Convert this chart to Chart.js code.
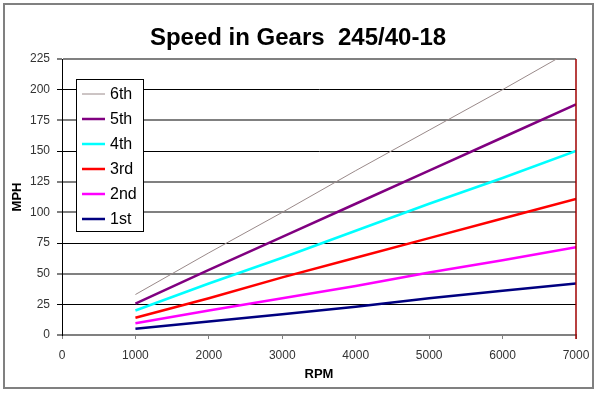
<!DOCTYPE html>
<html>
<head>
<meta charset="utf-8">
<script src="https://cdn.jsdelivr.net/npm/chart.js@4.4.1/dist/chart.umd.min.js"></script>
<style>
  body { margin: 0; background: #fff; }
  canvas { display: block; }
</style>
</head>
<body>
<canvas id="graficaMarchas" width="600" height="394"></canvas>
<script>
// Datos (MPH por marcha)
const rpm = [1000, 2000, 3000, 4000, 5000, 6000, 7000];
const marcha1 = [5, 11, 17, 23, 30, 36, 42];
const marcha2 = [9.5, 20, 30, 40, 51, 61, 71.5];
const marcha3 = [14, 30, 47, 63, 79, 95, 111];
const marcha4 = [20, 42, 63, 85, 107, 128, 150];
const marcha5 = [25.5, 53, 80, 107, 134, 161, 188];
const marcha6 = [33, 67, 100, 134, 167, 200, 234];
const nombres = ['6th', '5th', '4th', '3rd', '2nd', '1st'];
const ticksX = [0, 1000, 2000, 3000, 4000, 5000, 6000, 7000];
const ticksY = [0, 25, 50, 75, 100, 125, 150, 175, 200, 225];

const FUENTE = '"Liberation Sans", Arial, sans-serif';
Chart.defaults.font.family = FUENTE;

// lineas de rejilla que se ven grises en el original (el resto negras)
const rejillaGris = v => [0, 50, 100, 125, 175, 225].includes(v);

function puntos(valores) {
    return rpm.map((r, i) => ({ x: r, y: valores[i] }));
}

// marco, titulo, borde derecho del area y titulos de ejes
const marcoYTitulos = {
    id: 'marcoYTitulos',
    beforeDraw(chart) {
        const { ctx, width, height } = chart;
        ctx.save();
        ctx.fillStyle = '#fff';
        ctx.fillRect(0, 0, width, height);
        ctx.strokeStyle = '#808080';
        ctx.lineWidth = 2;
        ctx.strokeRect(4, 4, width - 11, height - 10);
        ctx.restore();
    },
    afterDraw(chart) {
        const { ctx, chartArea } = chart;
        const xDer = chart.scales.x.getPixelForValue(7000);
        ctx.save();
        ctx.strokeStyle = '#a00000';
        ctx.lineWidth = 1.5;
        ctx.beginPath();
        ctx.moveTo(xDer, chartArea.top);
        ctx.lineTo(xDer, chartArea.bottom + 4);
        ctx.stroke();

        ctx.fillStyle = '#000';
        ctx.textAlign = 'center';
        ctx.textBaseline = 'alphabetic';
        ctx.font = 'bold 24px ' + FUENTE;
        ctx.fillText('Speed in Gears  245/40-18', 298, 45);
        ctx.font = 'bold 13px ' + FUENTE;
        ctx.fillText('RPM', (chartArea.left + chartArea.right) / 2, 378);
        ctx.translate(21, (chartArea.top + chartArea.bottom) / 2);
        ctx.rotate(-Math.PI / 2);
        ctx.fillText('MPH', 0, 0);
        ctx.restore();
    }
};

// leyenda dentro del area del grafico, como en Excel
const leyendaDentro = {
    id: 'leyendaDentro',
    afterDatasetsDraw(chart) {
        const { ctx, chartArea } = chart;
        const x = chartArea.left + 14, y = chartArea.top + 20;
        ctx.save();
        ctx.fillStyle = '#fff';
        ctx.fillRect(x, y, 67, 152);
        ctx.strokeStyle = '#000';
        ctx.lineWidth = 1;
        ctx.strokeRect(x + 0.5, y + 0.5, 67, 152);
        ctx.font = '16px ' + FUENTE;
        ctx.textBaseline = 'middle';
        ctx.textAlign = 'left';
        chart.data.datasets.forEach((ds, i) => {
            const cy = y + 15 + i * 25;
            ctx.strokeStyle = ds.borderColor;
            ctx.lineWidth = ds.borderWidth;
            ctx.beginPath();
            ctx.moveTo(x + 6, cy);
            ctx.lineTo(x + 29, cy);
            ctx.stroke();
            ctx.fillStyle = '#000';
            ctx.fillText(ds.label, x + 34, cy + 1);
        });
        ctx.restore();
    }
};

const series = [marcha6, marcha5, marcha4, marcha3, marcha2, marcha1];
const colores = ['#9a8a8a', '#800080', '#00ffff', '#ff0000', '#ff00ff', '#000080'];
const grosores = [1, 2.5, 2.5, 2.5, 2.5, 2.5];

const ctx = document.getElementById('graficaMarchas').getContext('2d');
new Chart(ctx, {
    type: 'line',
    data: {
        datasets: series.map((s, i) => ({
            label: nombres[i],
            data: puntos(s),
            borderColor: colores[i],
            backgroundColor: colores[i],
            borderWidth: grosores[i],
            pointRadius: 0,
            tension: 0,
            fill: false
        }))
    },
    options: {
        responsive: false,
        devicePixelRatio: 1,
        animation: false,
        layout: { padding: { top: 59, right: 24, bottom: 0, left: 0 } },
        plugins: {
            legend: { display: false },
            title: { display: false },
            tooltip: { enabled: false }
        },
        scales: {
            x: {
                type: 'linear',
                min: 0,
                max: 7000,
                afterBuildTicks: s => { s.ticks = ticksX.map(v => ({ value: v })); },
                afterFit: s => { s.height = 59; },
                ticks: {
                    color: '#333', font: { size: 12 }, padding: 9, maxRotation: 0, autoSkip: false,
                    callback: v => String(v)
                },
                grid: {
                    color: 'rgba(0,0,0,0)',
                    tickColor: '#808080',
                    tickLength: 4,
                    lineWidth: 1
                },
                border: { color: '#808080', width: 2 }
            },
            y: {
                min: 0,
                max: 225,
                afterBuildTicks: s => { s.ticks = ticksY.map(v => ({ value: v })); },
                afterFit: s => { s.width = 62; },
                ticks: { color: '#333', font: { size: 12 }, padding: 7, callback: v => String(v) },
                grid: {
                    color: c => rejillaGris(c.tick.value) ? '#808080' : '#000',
                    lineWidth: c => rejillaGris(c.tick.value) ? 2 : 1,
                    tickLength: 5
                },
                border: { color: '#000', width: 1 }
            }
        }
    },
    plugins: [marcoYTitulos, leyendaDentro]
});
</script>
</body>
</html>
